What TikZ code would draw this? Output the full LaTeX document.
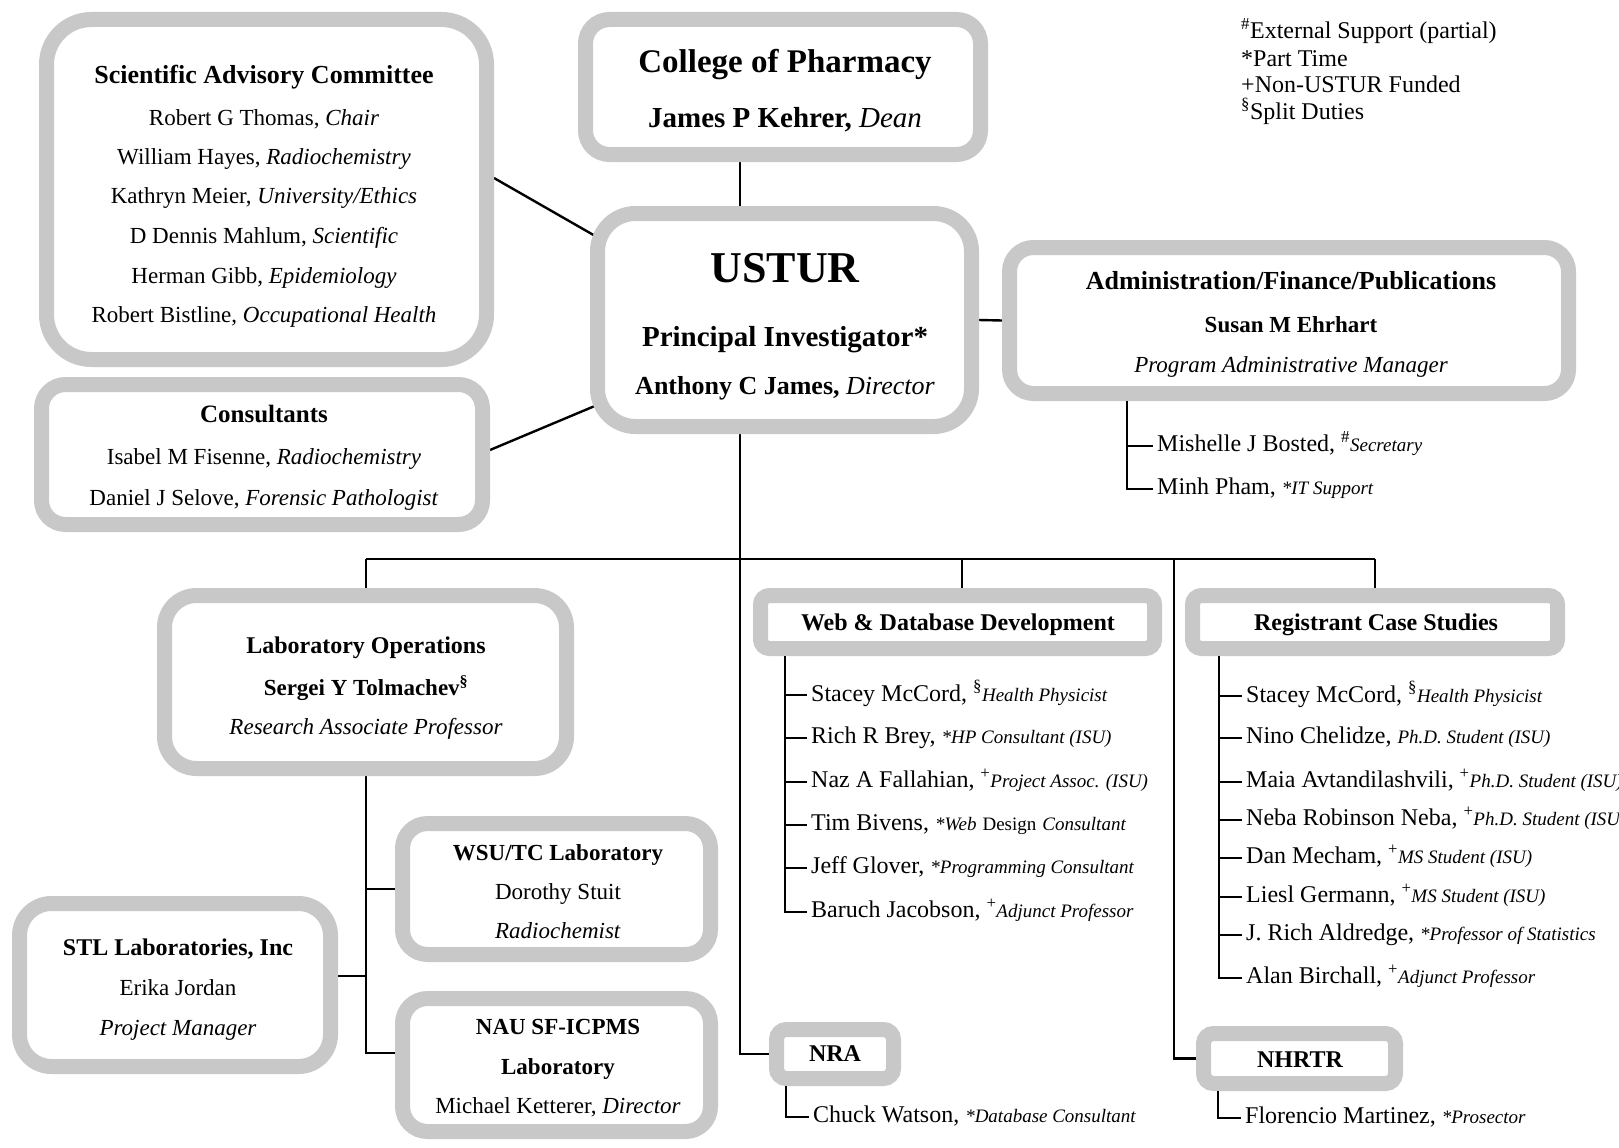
\documentclass[tikz,border=0pt]{standalone}
\usepackage{fontspec}
\setmainfont{Liberation Serif}
\usetikzlibrary{calc}
\definecolor{boxgray}{RGB}{200,200,200}
\pgfdeclarelayer{back}
\pgfdeclarelayer{bg}
\pgfsetlayers{back,bg,main}
\newcommand\rl[1]{{\fontsize{19}{22}\selectfont\itshape #1}}
\newcommand\ru[1]{{\fontsize{19}{22}\selectfont #1}}
\newcommand\sps[1]{\textsuperscript{#1}}
\begin{document}
\begin{tikzpicture}[x=1pt,y=-1pt,
  box/.style={draw=boxgray, line width=15pt, fill=white, rectangle, inner sep=0pt},
  conn/.style={line width=2.4pt, draw=black},
  t23/.style={inner sep=0pt, font=\fontsize{23}{28}\selectfont, execute at begin node=\strut},
  b23/.style={t23, font=\bfseries\fontsize{23}{28}\selectfont},
  b24/.style={t23, font=\bfseries\fontsize{24}{29}\selectfont},
  b25/.style={t23, font=\bfseries\fontsize{25}{30}\selectfont},
  b26/.style={t23, font=\bfseries\fontsize{26}{31}\selectfont},
  b29/.style={t23, font=\bfseries\fontsize{29}{34}\selectfont},
  b33/.style={t23, font=\bfseries\fontsize{33}{39}\selectfont},
  b44/.style={t23, font=\bfseries\fontsize{44}{52}\selectfont},
  item/.style={anchor=west, inner xsep=4pt, inner ysep=0pt, font=\fontsize{24}{28}\selectfont, execute at begin node=\strut},
  leg/.style={anchor=west, inner sep=0pt, font=\fontsize{24}{28}\selectfont, execute at begin node=\strut}
]
\useasboundingbox (0,0) rectangle (1619,1148);
\clip (0,0) rectangle (1619,1148);
\begin{pgfonlayer}{back}
\fill[white] (0,0) rectangle (1619,1148);
\end{pgfonlayer}

% ---------- boxes ----------
\node[box, minimum width=440pt, minimum height=340pt, rounded corners=45pt] (sac) at (266.5,189.5) {};
\node[box, minimum width=395pt, minimum height=135pt, rounded corners=24pt] (cop) at (783,87) {};
\node[box, minimum width=374pt, minimum height=213pt, rounded corners=38pt] (ustur) at (784.5,320) {};
\node[box, minimum width=441pt, minimum height=140pt, rounded corners=24pt] (cons) at (262,454.5) {};
\node[box, minimum width=559pt, minimum height=146pt, rounded corners=24pt] (admin) at (1289,320.5) {};
\node[box, minimum width=402pt, minimum height=173pt, rounded corners=32pt] (labops) at (365.5,682) {};
\node[box, minimum width=308pt, minimum height=131pt, rounded corners=25pt] (wsu) at (556.5,889) {};
\node[box, minimum width=311pt, minimum height=163pt, rounded corners=32pt] (stl) at (175,985) {};
\node[box, minimum width=308pt, minimum height=133pt, rounded corners=25pt] (nau) at (556.5,1065) {};
\node[box, minimum width=394pt, minimum height=53pt, rounded corners=9pt] (web) at (957.5,622) {};
\node[box, minimum width=365pt, minimum height=53pt, rounded corners=9pt] (reg) at (1375,622) {};
\node[box, minimum width=117pt, minimum height=49pt, rounded corners=10pt] (nra) at (835,1054) {};
\node[box, minimum width=192pt, minimum height=50pt, rounded corners=10pt] (nhrtr) at (1299.5,1058.5) {};

% ---------- box texts ----------
\node[b26] (sac0) at (264,77) {Scientific Advisory Committee};
\node[t23] (sac1) at (264,120) {Robert G Thomas, \textit{Chair}};
\node[t23] (sac2) at (264,159) {William Hayes, \textit{Radiochemistry}};
\node[t23] (sac3) at (264,198) {Kathryn Meier, \textit{University/Ethics}};
\node[t23] (sac4) at (264,238) {D Dennis Mahlum, \textit{Scientific}};
\node[t23] (sac5) at (264,278) {Herman Gibb, \textit{Epidemiology}};
\node[t23] (sac6) at (264,317) {Robert Bistline, \textit{Occupational Health}};

\node[b33] (cop0) at (785,65) {College of Pharmacy};
\node[b29] (cop1) at (785,121) {James P Kehrer, \textmd{\textit{Dean}}};

\node[b44] (us0) at (785,272) {USTUR};
\node[b29] (us1) at (785,340) {Principal Investigator*};
\node[b26] (us2) at (785,388) {Anthony C James, \textmd{\textit{Director}}};

\node[b25] (co0) at (264,416) {Consultants};
\node[t23] (co1) at (264,459) {Isabel M Fisenne, \textit{Radiochemistry}};
\node[t23] (co2) at (264,500) {Daniel J Selove, \textit{Forensic Pathologist}};

\node[b26] (ad0) at (1291,283) {Administration/Finance/Publications};
\node[b23] (ad1) at (1291,327) {Susan M Ehrhart};
\node[t23] (ad2) at (1291,367) {\textit{Program Administrative Manager}};

\node[b24] (lo0) at (366,648) {Laboratory Operations};
\node[b23] (lo1) at (366,690) {Sergei Y Tolmachev\sps{§}};
\node[t23] (lo2) at (366,729) {\textit{Research Associate Professor}};

\node[b23] (ws0) at (558,855) {WSU/TC Laboratory};
\node[t23] (ws1) at (558,894) {Dorothy Stuit};
\node[t23] (ws2) at (558,933) {\textit{Radiochemist}};

\node[b24] (st0) at (178,950) {STL Laboratories, Inc};
\node[t23] (st1) at (178,990) {Erika Jordan};
\node[t23] (st2) at (178,1030) {\textit{Project Manager}};

\node[b23] (na0) at (558,1029) {NAU SF-ICPMS};
\node[b23] (na1) at (558,1069) {Laboratory};
\node[t23] (na2) at (558,1108) {Michael Ketterer, \textit{Director}};

\node[b24] (we0) at (958,625) {Web \& Database Development};
\node[b24] (re0) at (1376,625) {Registrant Case Studies};
\node[b24] (nr0) at (835,1056) {NRA};
\node[b24] (nh0) at (1300,1062) {NHRTR};

% ---------- legend ----------
\node[leg] (lg1) at (1241,33) {\sps{\#}External Support (partial)};
\node[leg] (lg2) at (1241,61) {*Part Time};
\node[leg] (lg3) at (1241,87) {+Non-USTUR Funded};
\node[leg] (lg4) at (1241,113) {\sps{§}Split Duties};

% ---------- lists ----------
\node[item] (a1) at (1153,446) {Mishelle J Bosted, \sps{\#}\rl{Secretary}};
\node[item] (a2) at (1153,489) {Minh Pham, \rl{*IT Support}};

\node[item] (w1) at (807,695) {Stacey McCord, \sps{§}\rl{Health Physicist}};
\node[item] (w2) at (807,738) {Rich R Brey, \rl{*HP Consultant (ISU)}};
\node[item] (w3) at (807,782) {Naz A Fallahian, \sps{+}\rl{Project Assoc. (ISU)}};
\node[item] (w4) at (807,825) {Tim Bivens, \rl{*Web} \ru{Design} \rl{Consultant}};
\node[item] (w5) at (807,868) {Jeff Glover, \rl{*Programming Consultant}};
\node[item] (w6) at (807,912) {Baruch Jacobson, \sps{+}\rl{Adjunct Professor}};

\node[item] (r1) at (1242,696) {Stacey McCord, \sps{§}\rl{Health Physicist}};
\node[item] (r2) at (1242,738) {Nino Chelidze, \rl{Ph.D. Student (ISU)}};
\node[item] (r3) at (1242,782) {Maia Avtandilashvili, \sps{+}\rl{Ph.D. Student (ISU)}};
\node[item] (r4) at (1242,820) {Neba Robinson Neba, \sps{+}\rl{Ph.D. Student (ISU)}};
\node[item] (r5) at (1242,858) {Dan Mecham, \sps{+}\rl{MS Student (ISU)}};
\node[item] (r6) at (1242,897) {Liesl Germann, \sps{+}\rl{MS Student (ISU)}};
\node[item] (r7) at (1242,935) {J. Rich Aldredge, \rl{*Professor of Statistics}};
\node[item] (r8) at (1242,978) {Alan Birchall, \sps{+}\rl{Adjunct Professor}};

\node[item] (n1) at (809,1117) {Chuck Watson, \rl{*Database Consultant}};
\node[item] (h1) at (1241,1118) {Florencio Martinez, \rl{*Prosector}};

% ---------- connectors ----------
\coordinate (tk) at (740,0);
\coordinate (busL) at (366,559);
\coordinate (busR) at (1375,559);
\coordinate (bw) at (962,559);
\coordinate (bn) at (1174,559);
\coordinate (lx) at (366,0);
\coordinate (ax) at (1127,0);
\coordinate (wx) at (785,0);
\coordinate (rx) at (1219,0);
\coordinate (nx) at (786,0);
\coordinate (hx) at (1218,0);
\coordinate (sacA) at ([yshift=11.5pt]sac.east);
\coordinate (usA) at ([yshift=87pt]ustur.west);
\coordinate (consA) at ([yshift=4.5pt]cons.east);
\coordinate (usB) at ([yshift=-88pt]ustur.west);
\coordinate (stlA) at ([yshift=9pt]stl.east);
\coordinate (nauA) at ([yshift=12pt]nau.west);

\begin{pgfonlayer}{bg}
\draw[conn] (cop.south -| tk) -- (ustur.north -| tk);
\draw[conn] (sacA) -- ($(sacA)!1.15!(usA)$);
\draw[conn] (consA) -- ($(consA)!1.15!(usB)$);
\draw[conn] (ustur.east) -- (admin.west);
\draw[conn] (ustur.south -| tk) |- (nra.west);
\draw[conn] (busL) -- (busR);
\draw[conn] (busL) -- (labops.north -| busL);
\draw[conn] (bw) -- (web.north -| bw);
\draw[conn] (busR) -- (reg.north -| busR);
\draw[conn] (bn) |- (nhrtr.west);
\draw[conn] (labops.south -| lx) |- (nauA);
\draw[conn] (lx |- wsu.west) -- (wsu.west);
\draw[conn] (stlA) -- (stlA -| lx);
\end{pgfonlayer}

\draw[conn] (admin.south -| ax) |- (a2.west);
\draw[conn] (ax |- a1.west) -- (a1.west);

\draw[conn] (web.south -| wx) |- (w6.west);
\foreach \i in {1,...,5} \draw[conn] (wx |- w\i.west) -- (w\i.west);

\draw[conn] (reg.south -| rx) |- (r8.west);
\foreach \i in {1,...,7} \draw[conn] (rx |- r\i.west) -- (r\i.west);

\draw[conn] (nra.south -| nx) |- (n1.west);
\draw[conn] (nhrtr.south -| hx) |- (h1.west);
\end{tikzpicture}
\end{document}
